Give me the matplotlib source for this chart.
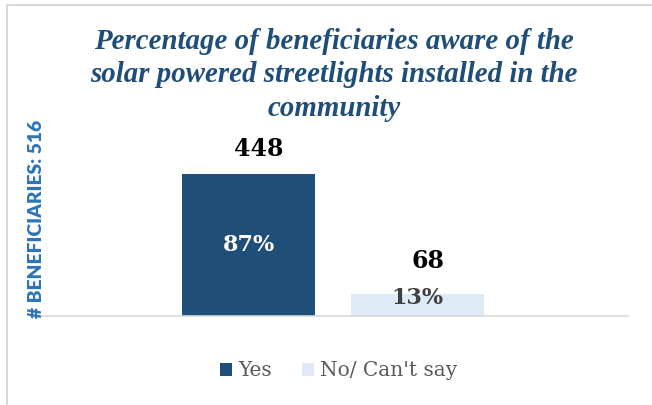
import matplotlib.pyplot as plt
from matplotlib.patches import Rectangle

# counts of respondents per answer
answers = ['Yes', "No/ Can't say"]
counts = [448, 68]
shares = [87, 13]
total = 516

colors = ['#1F4E79', '#DEEAF6']
title = ('Percentage of beneficiaries aware of the\n'
         'solar powered streetlights installed in the\n'
         'community')

fig = plt.figure(figsize=(6.52, 4.05), dpi=100)
ax = fig.add_axes([35 / 652, 89 / 405, 593 / 652, 216 / 405])

# two bars side by side for a single category
width = 1.0
gap = 0.27
offsets = [-(width + gap) / 2, (width + gap) / 2]
bars = []
for i in range(len(answers)):
    b = ax.bar(offsets[i], counts[i], width=width, color=colors[i], label=answers[i])
    bars.append(b[0])

ax.set_xlim(-2.243, 2.216)
ax.set_ylim(0, 216 / (142 / 448))

# count above each bar, share inside
count_shift = [(10, 25), (10, 33)]
share_shift = [0, 7]
share_colors = ['white', '#404040']
for i, b in enumerate(bars):
    xc = b.get_x() + b.get_width() / 2
    ax.annotate(str(counts[i]), (xc, counts[i]), xytext=count_shift[i],
                textcoords='offset pixels', ha='center', va='center',
                fontsize=17, fontweight='bold', family='DejaVu Serif', color='black')
    ax.annotate(f'{shares[i]}%', (xc, counts[i] / 2), xytext=(0, share_shift[i]),
                textcoords='offset pixels', ha='center', va='center',
                fontsize=16, fontweight='bold', family='DejaVu Serif',
                color=share_colors[i])

for s in ['top', 'right', 'left']:
    ax.spines[s].set_visible(False)
ax.spines['bottom'].set_color('#D9D9D9')
ax.spines['bottom'].set_linewidth(1.2)
ax.set_xticks([])
ax.set_yticks([])

fig.text(37 / 652, 1 - 219 / 405, f'# BENEFICIARIES: {total}', rotation=90,
         ha='center', va='center', fontsize=13.9, fontweight='heavy',
         family='Lato', color='#2E75B6')

fig.text(334 / 652, 1 - 75 / 405, title, ha='center', va='center',
         fontsize=20.8, fontweight='bold', fontstyle='italic',
         family='Liberation Serif', color='#1F4E79', linespacing=1.3)

leg = fig.legend(loc='center', bbox_to_anchor=(339 / 652, 1 - 371 / 405),
                 ncol=2, frameon=False, handlelength=0.6, handleheight=0.6,
                 handletextpad=0.3, columnspacing=1.5,
                 prop={'family': 'DejaVu Serif', 'size': 14.5})
for t in leg.get_texts():
    t.set_color('#595959')

# light frame round the chart area
fig.patches.append(Rectangle((7 / 652, -0.1), 1.2, 1 - 5 / 405 + 0.1,
                             transform=fig.transFigure, fill=False,
                             edgecolor='#D9D9D9', linewidth=1.5))

fig.savefig('out.png', dpi=100)
